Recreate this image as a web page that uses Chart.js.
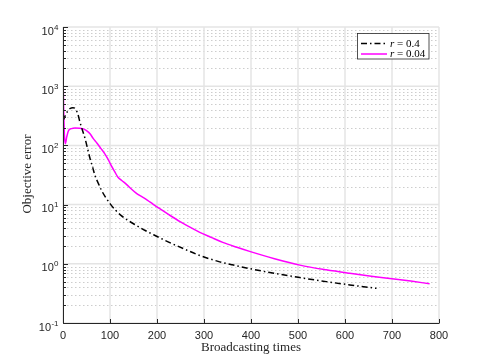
<!DOCTYPE html>
<html>
<head>
<meta charset="utf-8">
<script src="https://cdn.jsdelivr.net/npm/chart.js@4/dist/chart.umd.min.js"></script>
<style>
  html, body { margin: 0; padding: 0; background: #ffffff; }
  #wrap { width: 485px; height: 363px; position: relative; }
</style>
</head>
<body>
<div id="wrap"><canvas id="c" width="485" height="363"></canvas></div>
<script>
// ---- Data ----
const seriesNames = ['0.4', '0.04'];          // r values (legend: "r = ...")
const seriesColors = ['#000000', '#ff00ff'];

const xR04 = [0, 5, 10, 15, 21, 27, 32, 36, 40, 44, 47, 52, 57.5, 63, 68, 75, 82, 90, 100, 112, 124, 140, 156, 175, 198, 226, 260, 291, 330, 360, 397, 450, 504, 560, 610, 667];
const yR04 = [260, 320, 380, 420, 433, 410, 330, 248, 195, 155, 130, 90, 60, 43, 31, 23, 17.4, 13.5, 10.4, 8.0, 6.5, 5.3, 4.45, 3.65, 2.95, 2.3, 1.75, 1.38, 1.1, 0.96, 0.83, 0.69, 0.585, 0.5, 0.44, 0.385];

const xR004 = [0, 1, 3, 5, 8, 12, 18, 26, 35, 43, 50, 57.5, 64.5, 72, 80, 89, 96, 103, 110, 117, 125, 135, 145, 155, 163, 172, 180, 192, 205, 226, 250, 270, 291, 315, 340, 370, 397, 450, 504, 560, 610, 660, 700, 740, 780];
const yR004 = [1700, 600, 150, 107, 140, 179, 192, 196, 195, 190, 178, 157, 130, 110, 90, 72, 58, 45, 36, 29, 25.5, 22, 18.5, 15.8, 14.3, 13, 11.8, 10.1, 8.6, 6.7, 5.1, 4.15, 3.4, 2.8, 2.3, 1.9, 1.62, 1.22, 0.95, 0.79, 0.69, 0.61, 0.56, 0.51, 0.46];

const xTicks = [0, 100, 200, 300, 400, 500, 600, 700, 800];
const yDecades = [-1, 0, 1, 2, 3, 4];           // tick labels 10^d
const xTitle = 'Broadcasting times';
const yTitle = 'Objective error';

// ---- Build chart ----
const toPts = (xs, ys) => xs.map((x, i) => ({ x: x, y: ys[i] }));
const SANS = "'Liberation Sans', Arial, sans-serif";
const SERIF = "'Liberation Serif', 'DejaVu Serif', serif";
const INK = '#262626';

const decoPlugin = {
  id: 'deco',
  beforeDatasetsDraw(chart) {
    const ctx = chart.ctx;
    const xs = chart.scales.x, ys = chart.scales.y;
    const a = chart.chartArea;
    ctx.save();
    // minor y grid (dotted)
    ctx.strokeStyle = '#cdcdcd';
    ctx.lineWidth = 1;
    ctx.setLineDash([1.5, 2.5]);
    for (let d = -1; d < 4; d++) {
      for (let k = 2; k <= 9; k++) {
        const py = Math.round(ys.getPixelForValue(k * Math.pow(10, d))) + 0.5;
        ctx.beginPath(); ctx.moveTo(a.left, py); ctx.lineTo(a.right, py); ctx.stroke();
      }
    }
    ctx.setLineDash([]);
    // major grid
    ctx.strokeStyle = '#e4e4e4';
    ctx.lineWidth = 1.5;
    yDecades.forEach(d => {
      const py = ys.getPixelForValue(Math.pow(10, d));
      ctx.beginPath(); ctx.moveTo(a.left, py); ctx.lineTo(a.right, py); ctx.stroke();
    });
    xTicks.forEach(v => {
      const px = xs.getPixelForValue(v);
      ctx.beginPath(); ctx.moveTo(px, a.top); ctx.lineTo(px, a.bottom); ctx.stroke();
    });
    ctx.restore();
  },
  afterDatasetsDraw(chart) {
    const ctx = chart.ctx;
    const xs = chart.scales.x, ys = chart.scales.y;
    const a = chart.chartArea;
    ctx.save();
    // axes lines
    ctx.strokeStyle = INK;
    ctx.lineWidth = 1;
    const L = Math.round(a.left) + 0.5, B = Math.round(a.bottom) + 0.5;
    ctx.beginPath(); ctx.moveTo(L, a.top); ctx.lineTo(L, B); ctx.lineTo(a.right, B); ctx.stroke();
    // y ticks (inward)
    for (let d = -1; d <= 4; d++) {
      const py = Math.round(ys.getPixelForValue(Math.pow(10, d))) + 0.5;
      ctx.beginPath(); ctx.moveTo(L, py); ctx.lineTo(L + 4.5, py); ctx.stroke();
      if (d < 4) {
        for (let k = 2; k <= 9; k++) {
          const pm = Math.round(ys.getPixelForValue(k * Math.pow(10, d))) + 0.5;
          ctx.beginPath(); ctx.moveTo(L, pm); ctx.lineTo(L + 2.5, pm); ctx.stroke();
        }
      }
    }
    // x ticks (inward)
    xTicks.forEach(v => {
      const px = Math.round(xs.getPixelForValue(v)) + 0.5;
      ctx.beginPath(); ctx.moveTo(px, B); ctx.lineTo(px, B - 4.5); ctx.stroke();
    });
    // x tick labels
    ctx.fillStyle = INK;
    ctx.font = '11px ' + SANS;
    ctx.textAlign = 'center';
    ctx.textBaseline = 'alphabetic';
    xTicks.forEach(v => {
      ctx.fillText(String(v), xs.getPixelForValue(v), a.bottom + 15.5);
    });
    // y tick labels 10^d
    yDecades.forEach(d => {
      const py = ys.getPixelForValue(Math.pow(10, d));
      const exp = String(d);
      ctx.font = '8px ' + SANS;
      const we = ctx.measureText(exp).width;
      const right = a.left - 4.5;
      ctx.textAlign = 'left';
      ctx.fillText(exp, right - we, py + 2.5);
      ctx.font = '11px ' + SANS;
      ctx.textAlign = 'right';
      ctx.fillText('10', right - we - 0.3, py + 7.5);
    });
    // axis titles
    ctx.font = '13px ' + SERIF;
    ctx.textAlign = 'center';
    ctx.fillText(xTitle, (a.left + a.right) / 2, a.bottom + 27.5);
    ctx.save();
    ctx.translate(30.5, (a.top + a.bottom) / 2 - 1);
    ctx.rotate(-Math.PI / 2);
    ctx.textBaseline = 'alphabetic';
    ctx.fillText(yTitle, 0, 0);
    ctx.restore();

    // legend
    const bx = 357.5, by = 33.5, bw = 71.5, bh = 25.5;
    ctx.fillStyle = '#ffffff';
    ctx.fillRect(bx, by, bw, bh);
    ctx.strokeStyle = INK;
    ctx.lineWidth = 0.8;
    ctx.strokeRect(bx, by, bw, bh);
    const rows = [43.5, 54];
    chart.data.datasets.forEach((ds, i) => {
      const yy = rows[i];
      ctx.strokeStyle = ds.borderColor;
      ctx.lineWidth = ds.borderWidth;
      ctx.setLineDash(ds.borderDash || []);
      ctx.beginPath(); ctx.moveTo(361, yy); ctx.lineTo(387, yy); ctx.stroke();
      ctx.setLineDash([]);
      ctx.fillStyle = '#000000';
      ctx.textAlign = 'left';
      ctx.textBaseline = 'middle';
      ctx.font = 'italic 11px ' + SERIF;
      const rw = ctx.measureText('r').width;
      ctx.fillText('r', 390, yy + 0.5);
      ctx.font = '11px ' + SERIF;
      ctx.fillText(' = ' + seriesNames[i], 390 + rw, yy + 0.5);
    });
    ctx.restore();
  }
};

new Chart(document.getElementById('c'), {
  type: 'line',
  data: {
    datasets: [
      {
        label: 'r = ' + seriesNames[0],
        data: toPts(xR04, yR04),
        borderColor: seriesColors[0],
        borderWidth: 1.5,
        borderDash: [6, 3, 1.5, 3],
        pointRadius: 0,
        fill: false,
        cubicInterpolationMode: 'monotone'
      },
      {
        label: 'r = ' + seriesNames[1],
        data: toPts(xR004, yR004),
        borderColor: seriesColors[1],
        borderWidth: 1.5,
        pointRadius: 0,
        fill: false,
        cubicInterpolationMode: 'monotone'
      }
    ]
  },
  options: {
    responsive: false,
    animation: false,
    devicePixelRatio: 1,
    layout: { padding: { left: 63, right: 46, top: 27, bottom: 40 } },
    plugins: { legend: { display: false }, tooltip: { enabled: false } },
    scales: {
      x: { type: 'linear', min: 0, max: 800, display: false },
      y: { type: 'logarithmic', min: 0.1, max: 10000, display: false }
    }
  },
  plugins: [decoPlugin]
});
</script>
</body>
</html>
